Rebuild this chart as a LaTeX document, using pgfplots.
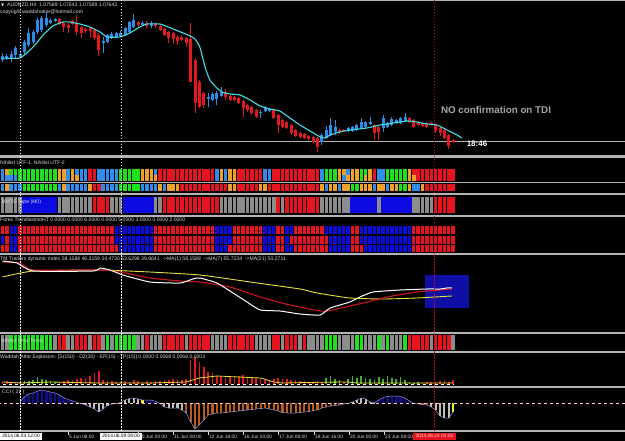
\documentclass[border=0pt]{standalone}
\usepackage{pgfplots}
\pgfplotsset{compat=1.18}
\usepackage{pgfplotstable}
\usepackage{fontspec}
\setmainfont{Liberation Sans}
\newfontfamily\djv{DejaVu Sans}
\newcommand\hd{\fontsize{5.1}{6}\selectfont}
\newcommand\xl{\fontsize{4.8}{5.5}\selectfont}

\definecolor{cR}{RGB}{230,20,30}
\definecolor{cB}{RGB}{50,140,235}
\definecolor{cG}{RGB}{30,225,30}
\definecolor{cO}{RGB}{240,160,40}
\definecolor{cK}{RGB}{140,140,140}
\definecolor{cN}{RGB}{10,10,225}
\definecolor{candR}{RGB}{225,25,30}
\definecolor{candB}{RGB}{45,140,230}
\definecolor{maC}{RGB}{70,220,225}
\definecolor{sep}{RGB}{180,180,180}
\definecolor{txt}{RGB}{215,215,215}
\definecolor{tdiY}{RGB}{230,225,60}
\definecolor{tdiR}{RGB}{205,20,30}
\definecolor{boxB}{RGB}{15,15,165}
\definecolor{wG}{RGB}{70,175,40}
\definecolor{wR}{RGB}{225,25,25}
\definecolor{cciN}{RGB}{15,15,140}
\definecolor{cciW}{RGB}{190,190,190}
\definecolor{cciBr}{RGB}{185,90,30}
\definecolor{cciY}{RGB}{240,240,40}
\definecolor{cciL}{RGB}{150,150,220}

\pgfdeclareplotmark{cellU}{\pgfpathrectangle{\pgfpoint{-1.75pt}{-3pt}}{\pgfpoint{3.5pt}{6pt}}\pgfusepath{fill}}
\pgfdeclareplotmark{cellU3}{\pgfpathrectangle{\pgfpoint{-1.75pt}{-3.75pt}}{\pgfpoint{3.5pt}{7.5pt}}\pgfusepath{fill}}
\pgfdeclareplotmark{cellBM}{\pgfpathrectangle{\pgfpoint{-1.75pt}{-8.25pt}}{\pgfpoint{3.5pt}{16.5pt}}\pgfusepath{fill}}
\pgfdeclareplotmark{cellBMf}{\pgfpathrectangle{\pgfpoint{-2.25pt}{-8.25pt}}{\pgfpoint{4.5pt}{16.5pt}}\pgfusepath{fill}}
\pgfdeclareplotmark{cellT}{\pgfpathrectangle{\pgfpoint{-1.65pt}{-4pt}}{\pgfpoint{3.3pt}{8pt}}\pgfusepath{fill}}
\pgfdeclareplotmark{cellT3}{\pgfpathrectangle{\pgfpoint{-1.65pt}{-3.3pt}}{\pgfpoint{3.3pt}{6.6pt}}\pgfusepath{fill}}
\pgfdeclareplotmark{cellUT}{\pgfpathrectangle{\pgfpoint{-1.75pt}{-7.5pt}}{\pgfpoint{3.5pt}{15pt}}\pgfusepath{fill}}
\pgfdeclareplotmark{nothing}{}

\pgfplotsset{
  panel/.style={scale only axis, width=625pt, xmin=-0.5714, xmax=142.2857, hide axis, anchor=north west},
  tape/.style={only marks, scatter, scatter src=explicit symbolic,
    scatter/classes={g={mark=#1,cG}, b={mark=#1,cB}, o={mark=#1,cO}, r={mark=#1,cR}, k={mark=#1,cK}, n={mark=#1,cN}}},
  bmtape/.style={only marks, scatter, scatter src=explicit symbolic,
    scatter/classes={r={mark=cellBM,cR}, k={mark=cellBM,cK}, n={mark=cellBMf,cN}}},
  wick/.style={only marks, mark=nothing, error bars/.cd, y dir=plus, y explicit, error mark=none,
    error bar style={#1, line width=0.8pt}},
  body/.style={only marks, mark=nothing, error bars/.cd, y dir=plus, y explicit, error mark=none,
    error bar style={#1, line width=3pt}},
}

% price candles (AUDNZD H4)
\pgfplotstableread{
j o h l c
0 1.0846 1.0853 1.0844 1.0850
1 1.0848 1.0852 1.0846 1.0850
2 1.0848 1.0855 1.0844 1.0852
3 1.0851 1.0860 1.0848 1.0858
4 1.0849 1.0855 1.0848 1.0852
5 1.0854 1.0866 1.0852 1.0864
6 1.0861 1.0878 1.0859 1.0873
7 1.0864 1.0876 1.0862 1.0874
8 1.0874 1.0888 1.0872 1.0886
9 1.0876 1.0890 1.0874 1.0888
10 1.0881 1.0893 1.0879 1.0888
11 1.0883 1.0888 1.0882 1.0886
12 1.0885 1.0888 1.0884 1.0887
23 1.0863 1.0869 1.0853 1.0865
24 1.0864 1.0872 1.0863 1.0871
25 1.0868 1.0874 1.0867 1.0872
26 1.0869 1.0874 1.0868 1.0873
27 1.0870 1.0875 1.0869 1.0873
28 1.0871 1.0879 1.0870 1.0878
29 1.0874 1.0885 1.0873 1.0884
30 1.0879 1.0892 1.0878 1.0886
32 1.0881 1.0885 1.0880 1.0883
34 1.0880 1.0885 1.0878 1.0883
47 1.0807 1.0813 1.0799 1.0809
48 1.0806 1.0814 1.0805 1.0812
49 1.0807 1.0815 1.0801 1.0813
50 1.0810 1.0819 1.0809 1.0814
59 1.0793 1.0796 1.0788 1.0794
60 1.0795 1.0800 1.0794 1.0798
61 1.0795 1.0798 1.0794 1.0797
73 1.0764 1.0773 1.0761 1.0771
74 1.0768 1.0780 1.0767 1.0776
75 1.0771 1.0788 1.0770 1.0781
76 1.0774 1.0786 1.0771 1.0779
79 1.0775 1.0779 1.0774 1.0778
80 1.0775 1.0780 1.0774 1.0779
81 1.0776 1.0782 1.0775 1.0781
82 1.0778 1.0788 1.0777 1.0784
83 1.0779 1.0785 1.0778 1.0784
84 1.0782 1.0789 1.0781 1.0784
87 1.0778 1.0791 1.0774 1.0788
88 1.0779 1.0784 1.0778 1.0783
89 1.0781 1.0789 1.0780 1.0787
90 1.0783 1.0787 1.0782 1.0786
91 1.0783 1.0789 1.0782 1.0788
92 1.0785 1.0793 1.0784 1.0789
}\bull
\pgfplotstableread{
j o h l c
13 1.0887 1.0888 1.0881 1.0882
14 1.0883 1.0885 1.0874 1.0879
15 1.0881 1.0883 1.0873 1.0878
16 1.0885 1.0886 1.0881 1.0882
17 1.0883 1.0891 1.0871 1.0874
18 1.0879 1.0880 1.0868 1.0873
19 1.0877 1.0878 1.0873 1.0875
20 1.0878 1.0879 1.0869 1.0875
21 1.0876 1.0877 1.0866 1.0868
22 1.0871 1.0873 1.0850 1.0856
31 1.0884 1.0885 1.0879 1.0881
33 1.0883 1.0885 1.0878 1.0880
35 1.0882 1.0884 1.0878 1.0880
36 1.0880 1.0881 1.0875 1.0876
37 1.0877 1.0878 1.0870 1.0871
38 1.0874 1.0875 1.0863 1.0868
39 1.0873 1.0874 1.0862 1.0867
40 1.0869 1.0871 1.0861 1.0865
41 1.0869 1.0870 1.0865 1.0866
42 1.0868 1.0869 1.0859 1.0863
43 1.0867 1.0883 1.0824 1.0824
44 1.0846 1.0848 1.0793 1.0803
45 1.0824 1.0826 1.0798 1.0799
46 1.0813 1.0814 1.0798 1.0801
51 1.0813 1.0817 1.0806 1.0809
52 1.0810 1.0811 1.0805 1.0806
53 1.0809 1.0810 1.0805 1.0806
54 1.0808 1.0809 1.0802 1.0803
55 1.0805 1.0806 1.0789 1.0798
56 1.0801 1.0802 1.0794 1.0796
57 1.0799 1.0800 1.0791 1.0793
58 1.0796 1.0797 1.0788 1.0789
62 1.0796 1.0797 1.0787 1.0788
63 1.0791 1.0792 1.0773 1.0781
64 1.0786 1.0787 1.0778 1.0779
65 1.0784 1.0785 1.0777 1.0778
66 1.0781 1.0782 1.0771 1.0773
67 1.0776 1.0777 1.0769 1.0770
68 1.0773 1.0774 1.0768 1.0769
69 1.0772 1.0773 1.0767 1.0768
70 1.0770 1.0771 1.0766 1.0767
71 1.0769 1.0770 1.0763 1.0764
72 1.0768 1.0769 1.0754 1.0759
77 1.0776 1.0777 1.0772 1.0773
78 1.0776 1.0777 1.0774 1.0775
85 1.0781 1.0782 1.0766 1.0773
86 1.0779 1.0780 1.0766 1.0774
93 1.0788 1.0789 1.0783 1.0784
94 1.0786 1.0787 1.0778 1.0779
95 1.0784 1.0785 1.0780 1.0781
96 1.0783 1.0784 1.0779 1.0780
97 1.0783 1.0784 1.0778 1.0779
98 1.0783 1.0784 1.0780 1.0781
99 1.0781 1.0782 1.0773 1.0775
100 1.0778 1.0779 1.0770 1.0773
101 1.0776 1.0777 1.0767 1.0768
102 1.0771 1.0772 1.0757 1.0760
103 1.0766 1.0767 1.0763 1.07643
}\bear
\pgfplotstableread{
j v
0 1.0848
4 1.0848
7 1.0859
9.3 1.0871
11.5 1.0880
13.8 1.0884
15.4 1.0884
17.7 1.0882
20 1.0879
22.3 1.0874
23.9 1.0869
26.9 1.0869
29.1 1.0873
31.4 1.0879
33 1.0882
36 1.0882
36.7 1.0881
39 1.0877
41.3 1.0873
42.9 1.0870
44 1.0867
45.1 1.0859
46.3 1.0839
47.4 1.0826
49 1.0818
50.2 1.0814
52 1.0812
54.3 1.0811
56.6 1.0806
58.9 1.0800
61.1 1.0797
63.4 1.0795
65.7 1.0788
68 1.0781
70.3 1.0775
72.6 1.0769
73.7 1.0768
74.9 1.0771
77.1 1.0774
79.4 1.0776
83.3 1.0778
86.3 1.0781
89.3 1.0783
92.5 1.0785
94.7 1.0784
97 1.0782
99.3 1.0781
101.6 1.0776
103.9 1.0771
105 1.0768
}\ma

% colour tapes: Nihilist UTF rows, BMTS, Trendissimo rows, Nihilist Ultra Trend
\pgfplotstableread{
j u1 u2 u3 bm t1 t2 t3 ut
0 b b b k r n r k
1 o b o k r r r k
2 g b b k n n n g
3 g b b k n n n g
4 g g b k r r r g
5 g g g n r r r g
6 g g g n r r r g
7 g g g n r r r g
8 g g g n r r r g
9 g g g n r r r g
10 g g g n r r r g
11 g g g n r r r g
12 g g g n r r r k
13 o o b k r r r r
14 o o o k r r r r
15 b b b k r r r k
16 o o b k r r r k
17 b o b k r r r r
18 b b b k r r r r
19 b b b k r r r r
20 r r o k r r r k
21 r r r r r r r r
22 b b r r r r r r
23 b b b r r r r k
24 b b b r r r r g
25 b b b k r r r k
26 b b b k n n r g
27 g g g k n n n g
28 g g g n n n n g
29 g g g n n n n g
30 g g g n n n n g
31 g g g n n n n k
32 o o b n n n n k
33 o o b n n n n r
34 o o b n n n n k
35 b o b k r r r k
36 r r o k r r r k
37 r r b r r r r r
38 r r o r r r r r
39 r r o r r r r r
40 r r o r r r r r
41 r r r r r r r r
42 r r r r r r r k
43 r r r r r r r r
44 r r r r r r r r
45 r r r r r r r r
46 r r r r r r r r
47 r r r r r r r r
48 r r r r r r r k
49 b b r r n n n k
50 o o r k n n n k
51 b b r k n n n k
52 o o o k n n r r
53 o o o k r r r r
54 r r r k r r r r
55 r r r k r r r r
56 r r r k r r r r
57 r r r k r r r r
58 r r r k r r r k
59 r r o k r r r k
60 b b o k n n n k
61 b b r k n n n k
62 r r r k n n n r
63 r r r r r r r r
64 r r r k r r r k
65 r r r r n n n r
66 r r r r n r n r
67 r r r r r r r r
68 r r r r r r r k
69 r r r r r r r r
70 r r r r r r r k
71 r r r r r r r k
72 r r r r r r r k
73 b b o k r r r k
74 g g b k n r r g
75 g g o k n n n g
76 g g o k n n n g
77 o o b k n n n k
78 o b o k n n n k
79 b o o k n n n k
80 o o g n r r r k
81 o o g n r r r g
82 g g o n n n r g
83 g o o n n n n k
84 o o o n n n n k
85 r r b n n n n k
86 b b o k n n n g
87 b b o n n n n k
88 g g b n n n n g
89 g g o n n n n k
90 g g o n n n n k
91 g g g n n n n k
92 g g g n n n n g
93 o o o n n n n r
94 r o b k r r r r
95 r r b k r r r r
96 r r o k r r r r
97 r r r k r r r r
98 r r r k r r r k
99 r r r r r r r r
100 r r r r r r r r
101 r r r r r r r r
102 r r r r r r r r
103 r r r r r r r k
}\tapes

% Traders dynamic index
\pgfplotstableread{
j v
0 85
3.3 83
7 75
20.7 75
22.3 78
24.6 76
27.5 71
33.7 64
40.6 63
43.5 67
45.1 68
49 63
52.7 53
55.9 44
58.9 36
63.4 35
68 32
72.6 31
74.9 38
79.4 44
81.7 49
84.7 54
90.9 56
97 57
100 57
101.6 58
102.7 58
}\tdiW
\pgfplotstableread{
j v
0 84
4 83
7 76
22.3 76
26.9 74
33.7 68
40.6 65
45.1 64
52 59
58.9 49
65.7 41
72.6 35
75.5 36
83.3 44
87.9 49
94.7 54
102.7 57
}\tdiR
\pgfplotstableread{
j v
0 69
7 75
22.3 76
33.7 74
45.1 71
56.6 64
68 57
71.9 53
79.4 48
87 47
94.7 48
102.7 50
}\tdiY

% Waddah Attar Explosion (c=1 red, c=2 green)
\pgfplotstableread{
j v c
0 .0034 1
1 .0051 1
2 .0034 1
3 .0034 1
4 .0034 1
5 .0051 2
6 .0051 2
7 .0068 2
8 .0119 2
9 .0085 2
10 .0068 2
11 .0051 2
12 .0034 2
13 .0034 1
14 .0051 1
15 .0068 1
16 .0068 1
17 .0085 1
18 .0102 1
19 .0102 1
20 .0136 1
21 .0187 1
22 .0221 1
23 .0068 1
24 .0051 1
25 .0051 1
26 .0034 1
27 .0034 1
28 .0051 1
29 .0034 1
30 .0068 1
31 .0051 1
32 .0034 1
33 .0051 1
34 .0034 1
35 .0051 1
36 .0051 1
37 .0068 1
38 .0068 1
39 .0085 1
40 .0068 1
41 .0068 1
42 .0085 1
43 .0408 1
44 .0459 1
45 .0374 1
46 .0289 1
47 .0204 1
48 .0187 1
49 .0136 1
50 .0119 1
51 .0102 1
52 .0119 1
53 .0136 1
54 .0136 1
55 .0153 1
56 .0119 1
57 .0102 1
58 .0102 1
59 .0085 1
60 .0068 1
61 .0051 1
62 .0085 1
63 .0102 1
64 .0085 1
65 .0085 1
66 .0068 1
67 .0068 1
68 .0051 1
69 .0051 1
70 .0034 1
71 .0034 1
72 .0051 1
73 .0034 1
74 .0102 2
75 .0136 2
76 .0085 2
77 .0068 2
78 .0034 1
79 .0085 2
80 .0136 2
81 .0102 2
82 .0136 2
83 .0102 2
84 .0085 2
85 .0068 2
86 .0119 2
87 .0085 2
88 .0136 2
89 .0102 2
90 .0085 2
91 .0119 2
92 .0068 2
93 .0034 2
94 .0017 2
95 .0034 2
96 .0017 1
97 .0034 1
98 .0034 1
99 .0034 1
100 .0051 1
101 .0068 1
102 .0034 1
103 .0068 1
}\wae
\pgfplotstableread{
j v
0 .0034
4 .0017
11 .0034
22 .0017
34 .0017
42 .0034
45 .0102
49 .0136
54 .0119
59 .0102
62 .0034
64 .0017
73 .0030
79 .0034
81 .0017
103 .0017
}\waeY

% CCI(21)  (c: 1 navy, 2 grey, 3 brown, 4 yellow)
\pgfplotstableread{
j v c
4 10 1
5 60 1
6 90 1
7 100 1
8 120 1
9 130 1
10 120 1
11 110 1
12 100 1
13 80 1
14 50 1
15 35 1
16 20 1
17 5 1
18 -5 2
19 -20 2
20 -40 2
21 -60 2
22 -90 2
23 -60 2
24 -25 2
25 -10 2
26 -5 2
27 5 2
28 30 2
29 45 2
30 50 2
31 40 2
32 30 4
33 30 1
34 30 1
35 15 1
36 -5 2
37 -40 2
38 -50 2
39 -50 2
40 -50 2
41 -70 2
42 -100 3
43 -190 3
44 -260 3
45 -220 3
46 -170 3
47 -120 3
48 -110 3
49 -100 3
50 -100 3
51 -95 3
52 -90 3
53 -85 3
54 -80 3
55 -75 3
56 -70 3
57 -65 3
58 -60 3
59 -55 3
60 -50 3
61 -60 3
62 -70 3
63 -80 3
64 -95 3
65 -100 3
66 -100 3
67 -100 3
68 -95 3
69 -90 3
70 -85 3
71 -75 3
72 -70 3
73 -50 3
74 -40 3
75 -30 3
76 -25 3
77 -20 3
78 -10 3
79 -3 3
80 10 2
81 30 2
82 50 2
83 40 2
84 10 2
85 2 2
86 30 1
87 55 1
88 65 1
89 70 1
90 70 1
91 65 1
92 50 1
93 20 1
94 -5 3
95 -10 3
96 -15 3
97 -20 3
98 -40 2
99 -70 2
100 -130 2
101 -150 2
102 -150 2
103 -90 4
}\cci

\begin{document}
\begin{tikzpicture}
\useasboundingbox (0pt,0pt) rectangle (625pt,-441pt);
\fill[black] (0pt,0pt) rectangle (625pt,-441pt);

% panel separators
\foreach \a/\b in {0/1.2, 155.3/157.8, 181.8/183.2, 193.3/195.3, 215.3/217.3, 253/255, 332.5/334.5, 351/353, 386/388, 430.2/432.2}
  \fill[sep] (0pt,-\a pt) rectangle (625pt,-\b pt);

% ---------- price ----------
\begin{axis}[panel, at={(0pt,0pt)}, height=154pt, ymin=1.0752, ymax=1.0906]
\addplot[sep, line width=0.7pt] coordinates {(-1,1.07643) (143,1.07643)};
\addplot[candB, wick=candB] table[x=j, y=l, y error plus expr=\thisrow{h}-\thisrow{l}] {\bull};
\addplot[candB, body=candB] table[x=j, y=o, y error plus expr=\thisrow{c}-\thisrow{o}] {\bull};
\addplot[candR, wick=candR] table[x=j, y=l, y error plus expr=\thisrow{h}-\thisrow{l}] {\bear};
\addplot[candR, body=candR] table[x=j, y=c, y error plus expr=\thisrow{o}-\thisrow{c}] {\bear};
\addplot[maC, line width=1.1pt, smooth, tension=0.3] table[x=j, y=v] {\ma};
\end{axis}

% ---------- tapes ----------
\begin{axis}[panel, at={(0pt,0pt)}, height=441pt, ymin=-441, ymax=0]
\addplot[tape=cellU]  table[x=j, y expr=-172,   meta=u1] {\tapes};
\addplot[tape=cellU]  table[x=j, y expr=-178.5, meta=u2] {\tapes};
\addplot[tape=cellU3] table[x=j, y expr=-187.3, meta=u3] {\tapes};
\addplot[bmtape]      table[x=j, y expr=-205,   meta=bm] {\tapes};
\addplot[tape=cellT]  table[x=j, y expr=-230,   meta=t1] {\tapes};
\addplot[tape=cellT]  table[x=j, y expr=-240,   meta=t2] {\tapes};
\addplot[tape=cellT3] table[x=j, y expr=-248.4, meta=t3] {\tapes};
\addplot[tape=cellUT] table[x=j, y expr=-342.7, meta=ut] {\tapes};
\end{axis}

% ---------- TDI ----------
\begin{axis}[panel, at={(0pt,-256pt)}, height=77pt, ymin=13, ymax=90]
\fill[boxB] (axis cs:96.6,38) rectangle (axis cs:106.6,71);
\addplot[tdiY, line width=0.9pt, smooth, tension=0.3] table[x=j, y=v] {\tdiY};
\addplot[tdiR, line width=1.1pt, smooth, tension=0.3] table[x=j, y=v] {\tdiR};
\addplot[white, line width=1.0pt, smooth, tension=0.3] table[x=j, y=v] {\tdiW};
\end{axis}

% ---------- Waddah Attar ----------
\begin{axis}[panel, at={(0pt,-353pt)}, height=33pt, ymin=-0.0034, ymax=0.0527]
\addplot[ycomb, wR, line width=1.6pt, restrict expr to domain={\thisrow{c}}{1:1}] table[x=j, y=v] {\wae};
\addplot[ycomb, wG, line width=1.6pt, restrict expr to domain={\thisrow{c}}{2:2}] table[x=j, y=v] {\wae};
\addplot[white, dashed, line width=0.5pt] coordinates {(0,0.0003) (103,0.0003)};
\addplot[tdiY, line width=0.8pt] table[x=j, y=v] {\waeY};
\end{axis}

% ---------- CCI ----------
\begin{axis}[panel, at={(0pt,-388pt)}, height=42pt, ymin=-270, ymax=150]
\addplot[ycomb, cciN, line width=2.6pt, restrict expr to domain={\thisrow{c}}{1:1}] table[x=j, y=v] {\cci};
\addplot[ycomb, cciW, line width=2.2pt, restrict expr to domain={\thisrow{c}}{2:2}] table[x=j, y=v] {\cci};
\addplot[ycomb, cciBr, line width=2.2pt, restrict expr to domain={\thisrow{c}}{3:3}] table[x=j, y=v] {\cci};
\addplot[ycomb, cciY, line width=2.2pt, restrict expr to domain={\thisrow{c}}{4:4}] table[x=j, y=v] {\cci};
\addplot[cciL, line width=0.5pt] table[x=j, y=v] {\cci};
\addplot[white!80!red, dashed, line width=0.6pt] coordinates {(-1,0) (143,0)};
\end{axis}

% vertical lines
\draw[white, line width=0.5pt, dash pattern=on 1.5pt off 1.5pt] (20.5pt,0pt) -- (20.5pt,-431pt);
\draw[white, line width=0.5pt, dash pattern=on 1.5pt off 1.5pt] (121pt,0pt) -- (121pt,-431pt);
\draw[cR!80!black, line width=0.5pt, dash pattern=on 1.5pt off 1.5pt] (434pt,0pt) -- (434pt,-431pt);

% texts
\node[anchor=west, inner sep=0pt, text=txt, font={\djv\fontsize{4}{4}\selectfont}] at (1pt,-5.5pt) {▼};
\node[anchor=west, inner sep=0pt, text=txt, font=\hd] at (7pt,-5.5pt) {AUDNZD,H4\ \ 1.07589 1.07643 1.07589 1.07643};
\node[anchor=west, inner sep=0pt, text=txt, font=\hd] at (0pt,-12pt) {copyright waddahattar@hotmail.com};
\node[anchor=center, inner sep=0pt, text={rgb,255:red,165;green,165;blue,165}, font={\fontsize{9.8}{11}\selectfont\bfseries}] at (496pt,-110pt) {NO confirmation on TDI};
\node[anchor=center, inner sep=0pt, text=white, font={\fontsize{8}{9}\selectfont\bfseries}] at (477pt,-144pt) {18:46};
\node[anchor=west, inner sep=0pt, text=txt, font=\hd] at (0pt,-163pt) {Nihilist UTF-1\ \ Nihilist UTF-2};
\node[anchor=west, inner sep=0pt, text=txt, font=\hd] at (2pt,-202pt) {BMTS-Tape (M0)};
\node[anchor=west, inner sep=0pt, text=txt, font=\hd] at (0pt,-220pt) {Forex TrendissimoHT 0.0000 0.0000 6.0000 0.0000 5.0000 3.0000 0.0000 2.0000};
\node[anchor=west, inner sep=0pt, text=txt, font=\hd] at (0pt,-259.5pt) {TM Traders dynamic index 58.1588 46.3159 34.4730 53.6298 39.6641\ \ ->MA(1) 58.1588\ \ ->MA(7) 55.7234\ \ ->MA(21) 50.2711};
\node[anchor=west, inner sep=0pt, text=txt, font=\hd] at (1pt,-341pt) {Nihilist Ultra Trend};
\node[anchor=west, inner sep=0pt, text=txt, font=\hd] at (0pt,-357.5pt) {Waddah Attar Explosion: [S(150) - DZ(30) - EP(15) - TP(15)] 0.0000 0.0068 0.0066 0.0003};
\node[anchor=west, inner sep=0pt, text=txt, font=\hd] at (2pt,-392.5pt) {CCI ( 21 )};

% time axis
\foreach \x/\t in {69/5 Jun 08:00, 139/10 Jun 00:00, 174/11 Jun 08:00, 209/12 Jun 16:00, 244/16 Jun 00:00, 279/17 Jun 08:00, 315/18 Jun 16:00, 350/20 Jun 00:00, 385/23 Jun 08:00}{
  \draw[txt, line width=0.5pt] (\x pt-1pt,-432pt) -- (\x pt-1pt,-434.5pt);
  \node[anchor=west, inner sep=0pt, text=txt, font=\xl] at (\x pt,-436.5pt) {\t};
}
\node[anchor=center, fill=white, text=black, inner sep=0pt, minimum width=42pt, minimum height=7.5pt, font=\xl] at (21pt,-436.3pt) {2014.06.03 12:00};
\node[anchor=center, fill=white, text=black, inner sep=0pt, minimum width=42pt, minimum height=7.5pt, font=\xl] at (121pt,-436.3pt) {2014.06.09 08:00};
\node[anchor=center, fill=cR, text=white!85!red, inner sep=0pt, minimum width=43pt, minimum height=7.5pt, font=\xl] at (434.5pt,-436.3pt) {2014.06.24 04:00};
\end{tikzpicture}
\end{document}
